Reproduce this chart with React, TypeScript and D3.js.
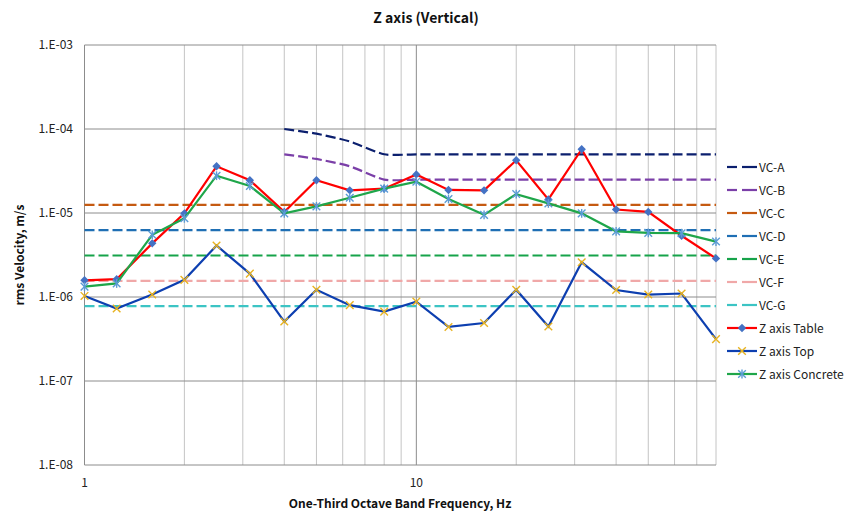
import React from "react";
import * as d3 from "d3";

const freqs = [1, 1.25, 1.6, 2, 2.5, 3.15, 4, 5, 6.3, 8, 10, 12.5, 16, 20, 25, 31.5, 40, 50, 63, 80];
const vcFreqs = freqs.slice(6);

const vcA = [1e-4, 8.8e-5, 7.1e-5, 5e-5, 5e-5, 5e-5, 5e-5, 5e-5, 5e-5, 5e-5, 5e-5, 5e-5, 5e-5, 5e-5];
const vcB = [5e-5, 4.4e-5, 3.6e-5, 2.5e-5, 2.5e-5, 2.5e-5, 2.5e-5, 2.5e-5, 2.5e-5, 2.5e-5, 2.5e-5, 2.5e-5, 2.5e-5, 2.5e-5];
const vcLevels = [
  { name: "VC-C", value: 1.25e-5, color: "#C55A11" },
  { name: "VC-D", value: 6.25e-6, color: "#1F6FB4" },
  { name: "VC-E", value: 3.12e-6, color: "#16A34A" },
  { name: "VC-F", value: 1.56e-6, color: "#F0A8A8" },
  { name: "VC-G", value: 7.8e-7, color: "#3CC4C4" },
];

const tableVals = [1.58e-6, 1.63e-6, 4.35e-6, 9.9e-6, 3.6e-5, 2.45e-5, 1.03e-5, 2.45e-5, 1.86e-5, 1.95e-5, 2.88e-5, 1.88e-5, 1.86e-5, 4.24e-5, 1.45e-5, 5.74e-5, 1.1e-5, 1.03e-5, 5.36e-6, 2.88e-6];
const topVals = [1.03e-6, 7.3e-7, 1.07e-6, 1.6e-6, 4.1e-6, 1.9e-6, 5.1e-7, 1.22e-6, 8.0e-7, 6.7e-7, 8.8e-7, 4.4e-7, 4.9e-7, 1.22e-6, 4.46e-7, 2.59e-6, 1.21e-6, 1.07e-6, 1.1e-6, 3.15e-7];
const concreteVals = [1.33e-6, 1.45e-6, 5.5e-6, 8.65e-6, 2.78e-5, 2.1e-5, 9.9e-6, 1.2e-5, 1.52e-5, 1.95e-5, 2.36e-5, 1.47e-5, 9.5e-6, 1.68e-5, 1.3e-5, 9.9e-6, 6.05e-6, 5.8e-6, 5.75e-6, 4.57e-6];

const yTicks = [1e-8, 1e-7, 1e-6, 1e-5, 1e-4, 1e-3];
const xTicks = [1, 10];
const minorX = [2, 3, 4, 5, 6, 7, 8, 9, 20, 30, 40, 50, 60, 70, 80];

const W = 852;
const H = 518;
const font = "'Noto Sans CJK KR', 'Noto Sans', sans-serif";
const dash = "10,4";

const x = d3.scaleLog().domain([1, 80]).range([84.5, 716]);
const y = d3.scaleLog().domain([1e-8, 1e-3]).range([465, 45]);

const fmt = (v: number) => "1.E-" + String(Math.round(-Math.log10(v))).padStart(2, "0");

type Marker = "diamond" | "x" | "star";

function MarkerShape({ kind, cx, cy }: { kind: Marker; cx: number; cy: number }) {
  if (kind === "diamond") {
    const s = 4.2;
    return <path d={`M${cx},${cy - s}L${cx + s},${cy}L${cx},${cy + s}L${cx - s},${cy}Z`} fill="#4472C4" />;
  }
  const r = 3.8;
  if (kind === "x") {
    return (
      <g stroke="#E8B320" strokeWidth={1.4}>
        <line x1={cx - r} y1={cy - r} x2={cx + r} y2={cy + r} />
        <line x1={cx - r} y1={cy + r} x2={cx + r} y2={cy - r} />
      </g>
    );
  }
  return (
    <g stroke="#5B9BD5" strokeWidth={1.4}>
      <line x1={cx - r} y1={cy - r} x2={cx + r} y2={cy + r} />
      <line x1={cx - r} y1={cy + r} x2={cx + r} y2={cy - r} />
      <line x1={cx} y1={cy - r - 0.6} x2={cx} y2={cy + r + 0.6} />
    </g>
  );
}

const series: { name: string; values: number[]; color: string; marker: Marker }[] = [
  { name: "Z axis Table", values: tableVals, color: "#FF0000", marker: "diamond" },
  { name: "Z axis Top", values: topVals, color: "#0D3FB0", marker: "x" },
  { name: "Z axis Concrete", values: concreteVals, color: "#1FA64A", marker: "star" },
];

export default function App() {
  const straight = d3
    .line<[number, number]>()
    .x((d) => x(d[0]))
    .y((d) => y(d[1]));
  const smooth = d3
    .line<[number, number]>()
    .x((d) => x(d[0]))
    .y((d) => y(d[1]))
    .curve(d3.curveCardinal.tension(0.3));

  const curved = [
    { name: "VC-A", values: vcA, color: "#0B1F6E" },
    { name: "VC-B", values: vcB, color: "#7B3FA8" },
  ];

  const legendItems = [
    ...curved.map((c) => ({ name: c.name, color: c.color, dashed: true, marker: null as Marker | null })),
    ...vcLevels.map((c) => ({ name: c.name, color: c.color, dashed: true, marker: null as Marker | null })),
    ...series.map((s) => ({ name: s.name, color: s.color, dashed: false, marker: s.marker as Marker | null })),
  ];

  return (
    <svg width={W} height={H} style={{ position: "absolute", left: 0, top: 0, background: "#fff" }} fontFamily={font}>
      <rect width={W} height={H} fill="#fff" />
      {/* grid */}
      {minorX.map((v) => (
        <line key={"mx" + v} x1={x(v)} x2={x(v)} y1={45} y2={465} stroke="#C4C4C4" strokeWidth={1} />
      ))}
      {xTicks.map((v) => (
        <line key={"gx" + v} x1={x(v)} x2={x(v)} y1={45} y2={465} stroke="#8C8C8C" strokeWidth={1} />
      ))}
      {yTicks.map((v) => (
        <line key={"gy" + v} x1={84.5} x2={716} y1={y(v)} y2={y(v)} stroke="#8C8C8C" strokeWidth={1} />
      ))}

      {/* tick labels */}
      {yTicks.map((v) => (
        <text key={"ty" + v} x={73} y={y(v) + 4} textAnchor="end" fontSize={12} fill="#222">
          {fmt(v)}
        </text>
      ))}
      {xTicks.map((v) => (
        <text key={"tx" + v} x={x(v)} y={487} textAnchor="middle" fontSize={12} fill="#222">
          {v}
        </text>
      ))}

      {/* VC criteria */}
      {vcLevels.map((c) => (
        <line key={c.name} x1={x(1)} x2={x(80)} y1={y(c.value)} y2={y(c.value)} stroke={c.color} strokeWidth={2.2} strokeDasharray={dash} />
      ))}
      {curved.map((c) => (
        <path
          key={c.name}
          d={smooth(vcFreqs.map((f, i) => [f, c.values[i]] as [number, number])) || ""}
          fill="none"
          stroke={c.color}
          strokeWidth={2.2}
          strokeDasharray={dash}
        />
      ))}

      {/* measured series */}
      {series.map((s) => (
        <g key={s.name}>
          <path d={straight(freqs.map((f, i) => [f, s.values[i]] as [number, number])) || ""} fill="none" stroke={s.color} strokeWidth={2.2} />
          {freqs.map((f, i) => (
            <MarkerShape key={i} kind={s.marker} cx={x(f)} cy={y(s.values[i])} />
          ))}
        </g>
      ))}

      {/* titles */}
      <text x={426} y={23} textAnchor="middle" fontSize={14} fontWeight="bold" fill="#111">
        Z axis (Vertical)
      </text>
      <text x={400} y={508} textAnchor="middle" fontSize={12} fontWeight="bold" fill="#111">
        One-Third Octave Band Frequency, Hz
      </text>
      <text transform={`translate(24,${255}) rotate(-90)`} textAnchor="middle" fontSize={12} fontWeight="bold" fill="#111">
        rms Velocity, m/s
      </text>

      {/* legend */}
      {legendItems.map((item, i) => {
        const ly = 167 + i * 23;
        return (
          <g key={item.name}>
            {item.dashed ? (
              <g stroke={item.color} strokeWidth={2.2}>
                <line x1={727} x2={737} y1={ly} y2={ly} />
                <line x1={742} x2={757} y1={ly} y2={ly} />
              </g>
            ) : (
              <line x1={727} x2={757} y1={ly} y2={ly} stroke={item.color} strokeWidth={2.2} />
            )}
            {item.marker && <MarkerShape kind={item.marker} cx={742} cy={ly} />}
            <text x={759} y={ly + 4.5} fontSize={12} fill="#222">
              {item.name}
            </text>
          </g>
        );
      })}
    </svg>
  );
}
